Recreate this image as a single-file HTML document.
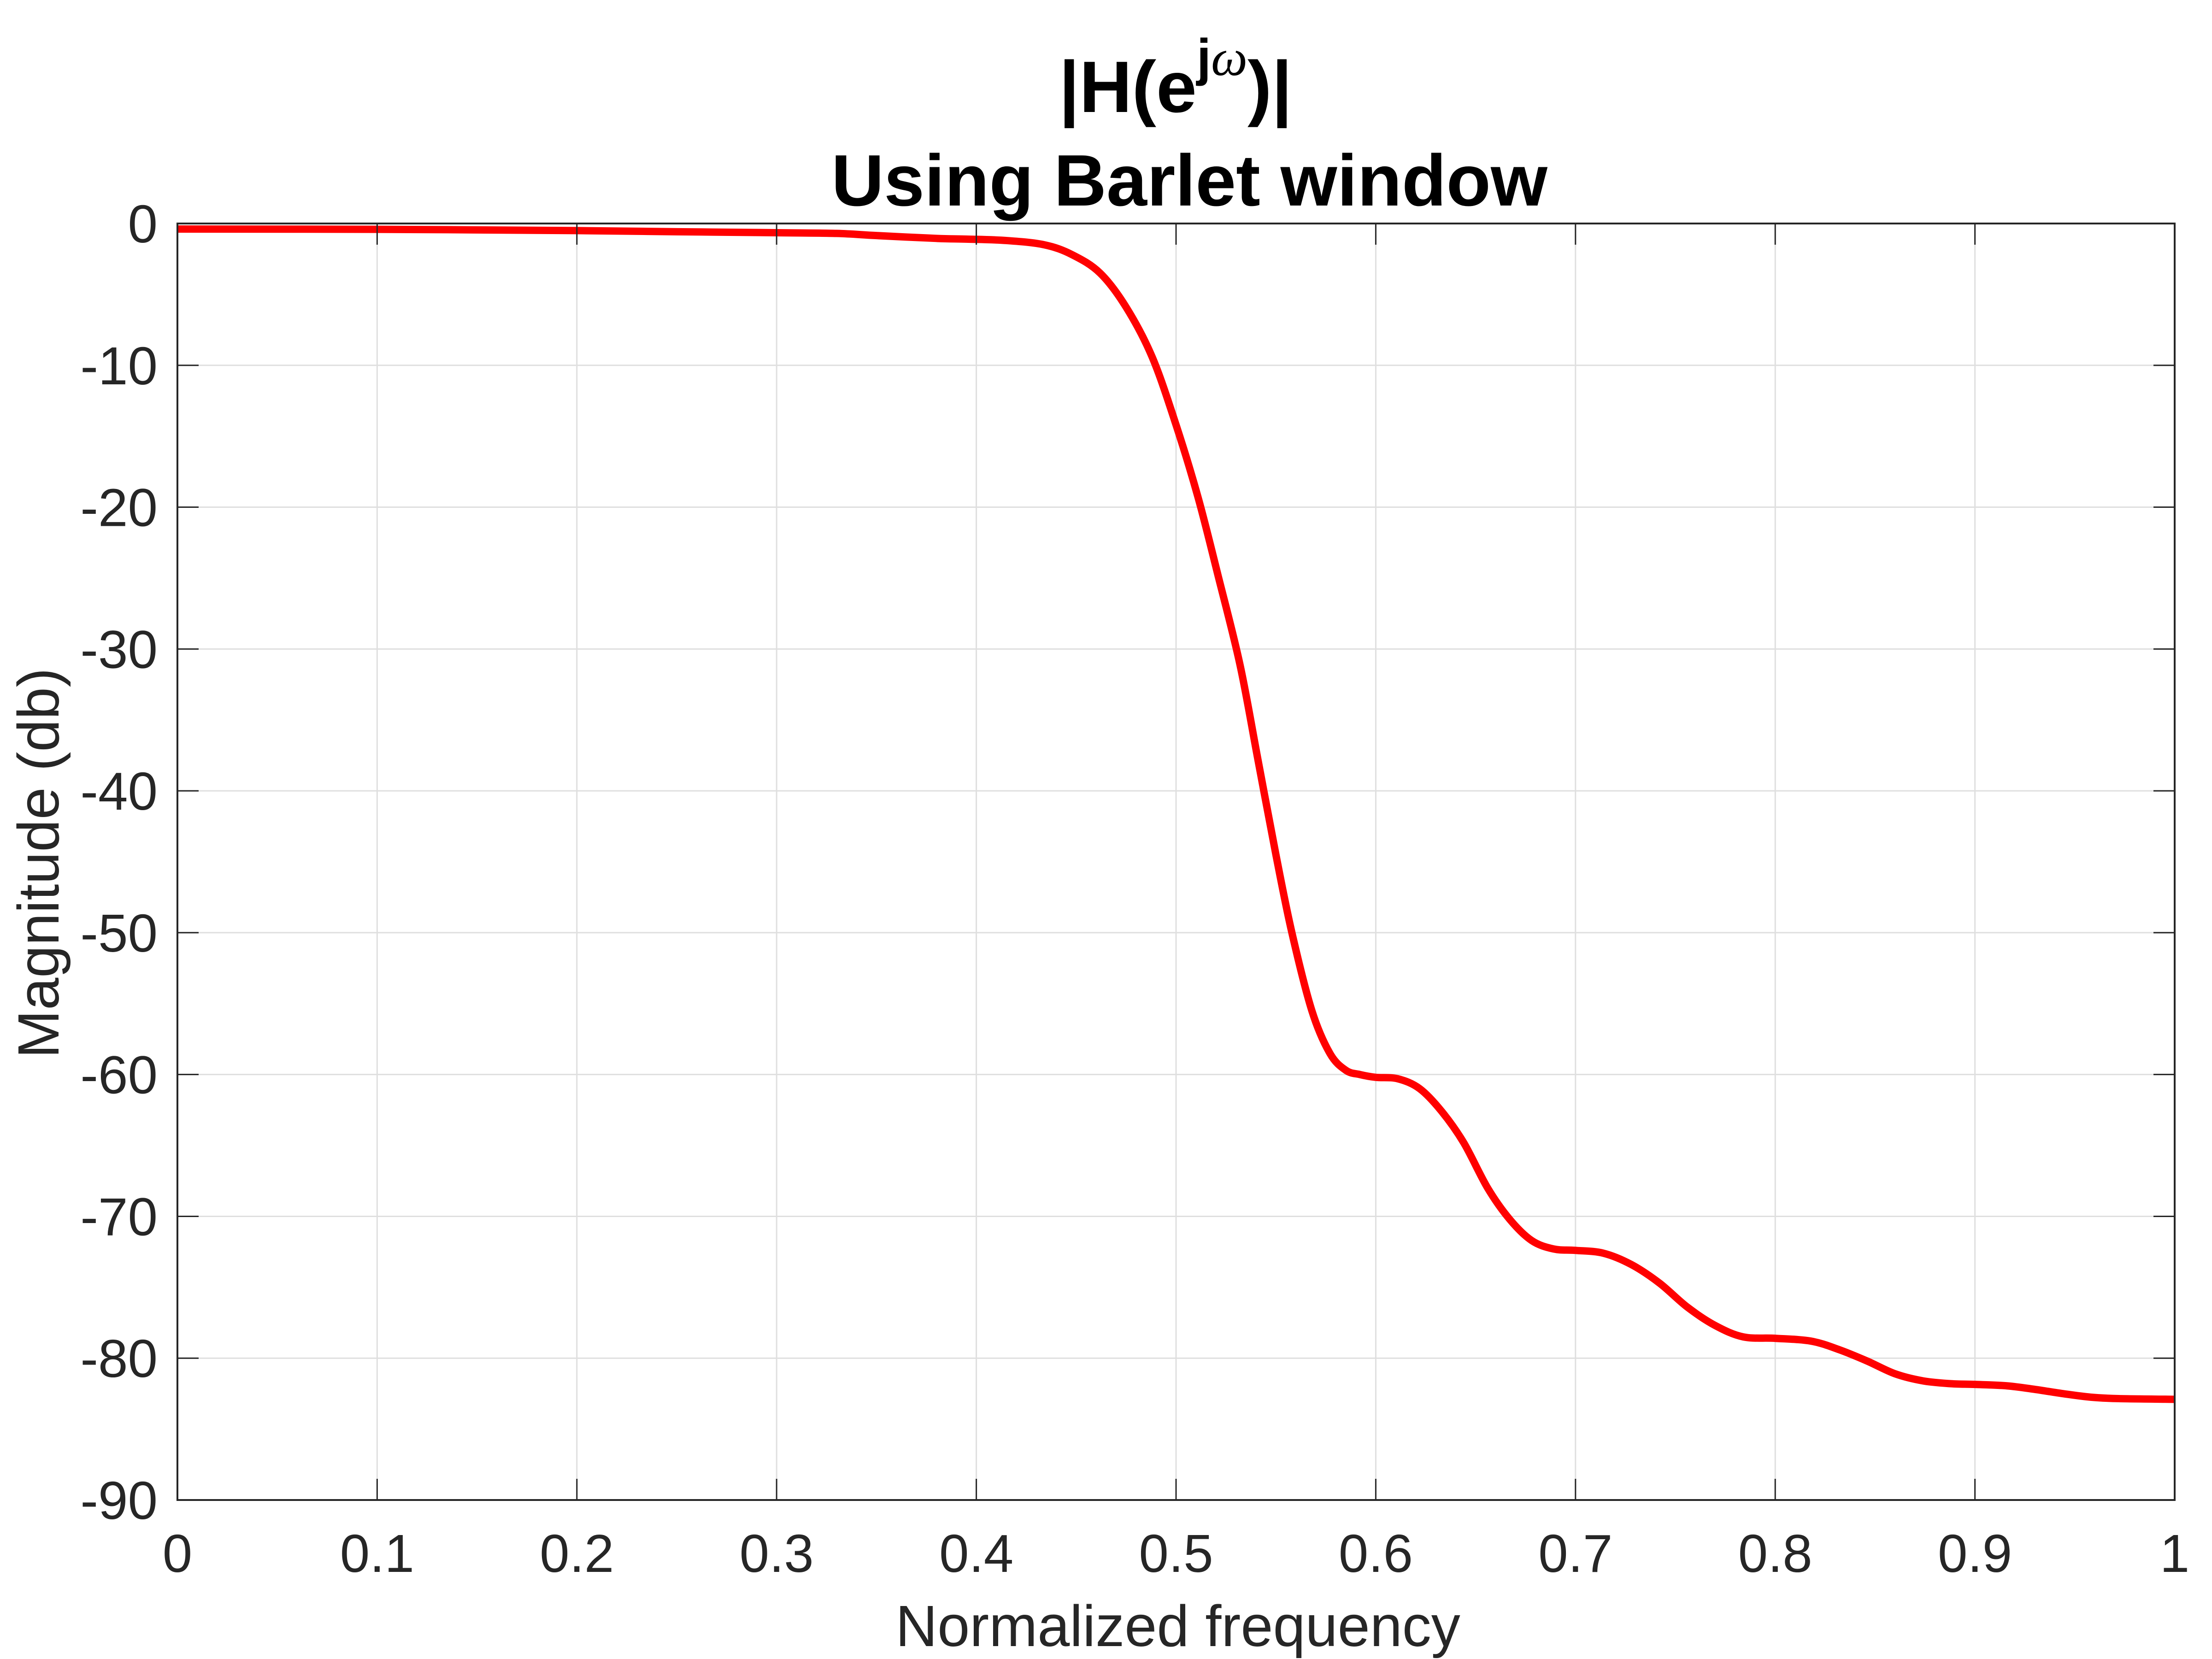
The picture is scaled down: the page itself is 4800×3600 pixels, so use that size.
<!DOCTYPE html>
<html><head><meta charset="utf-8"><style>
html,body{margin:0;padding:0;background:#fff;}
svg{display:block;}
text{font-family:"Liberation Sans",sans-serif;}
</style></head><body>
<svg id="chart" width="4800" height="3600" viewBox="0 0 4800 3600" xmlns="http://www.w3.org/2000/svg">
<rect x="0" y="0" width="4800" height="3600" fill="#fff"/>
<g id="grid"></g>
<g id="series"></g>
<g id="axes"></g>
<text x="2551" y="243" text-anchor="middle" font-size="158" font-weight="bold" fill="#000">|H(e<tspan font-size="112" dy="-80">j</tspan><tspan font-size="112" font-style="italic" font-weight="normal" font-family="Liberation Serif, serif">ω</tspan><tspan dy="80">)|</tspan></text>
<text x="2581" y="446" text-anchor="middle" font-size="158" font-weight="bold" fill="#000">Using Barlet window</text>
<text x="2556" y="3572" text-anchor="middle" font-size="126" fill="#262626">Normalized frequency</text>
<text transform="translate(127,1873) rotate(-90)" text-anchor="middle" font-size="126" fill="#262626">Magnitude (db)</text>
</svg>
<script>
const xValues = [0,0.1,0.2,0.25,0.3,0.33,0.35,0.38,0.395,0.415,0.434,0.448,0.462,0.475,0.488,0.5,0.511,0.521,0.532,0.541,0.55,0.558,0.568,0.577,0.585,0.592,0.6,0.611,0.622,0.633,0.644,0.656,0.667,0.678,0.689,0.7,0.714,0.728,0.742,0.756,0.77,0.784,0.8,0.818,0.832,0.846,0.86,0.874,0.888,0.9,0.916,0.93,0.944,0.958,0.972,1.0];
const magnitudeDb = [-0.39,-0.41,-0.5,-0.58,-0.65,-0.7,-0.85,-1.05,-1.1,-1.2,-1.5,-2.2,-3.5,-5.9,-9.4,-14.2,-19.3,-24.8,-31.1,-37.8,-44.5,-50,-55.5,-58.5,-59.7,-60,-60.2,-60.3,-61,-62.6,-64.8,-68,-70.2,-71.7,-72.3,-72.4,-72.6,-73.4,-74.7,-76.4,-77.7,-78.5,-78.6,-78.8,-79.4,-80.2,-81.1,-81.6,-81.8,-81.85,-81.95,-82.2,-82.5,-82.75,-82.85,-82.9];
const xTicks = [0,0.1,0.2,0.3,0.4,0.5,0.6,0.7,0.8,0.9,1];
const xTickLabels = ["0","0.1","0.2","0.3","0.4","0.5","0.6","0.7","0.8","0.9","1"];
const yTicks = [0,-10,-20,-30,-40,-50,-60,-70,-80,-90];
const yTickLabels = ["0","-10","-20","-30","-40","-50","-60","-70","-80","-90"];

const NS = "http://www.w3.org/2000/svg";
const L = 385, R = 4719, T = 485, B = 3255;
const xMin = 0, xMax = 1, yMin = -90, yMax = 0;
function sx(v){ return L + (v - xMin) / (xMax - xMin) * (R - L); }
function sy(v){ return T + (yMax - v) / (yMax - yMin) * (B - T); }
function mk(tag, attrs, parent){
  const e = document.createElementNS(NS, tag);
  for (const k in attrs) e.setAttribute(k, attrs[k]);
  parent.appendChild(e);
  return e;
}
const grid = document.getElementById('grid');
const axes = document.getElementById('axes');
const series = document.getElementById('series');

xTicks.forEach((v, i) => {
  const x = sx(v);
  if (i > 0 && i < xTicks.length - 1) {
    const g = mk('line', {x1:x, x2:x, y1:T, y2:B, stroke:'#dfdfdf', 'stroke-width':3}, grid);
    
    
  }
  const t1 = mk('line', {x1:x, x2:x, y1:B, y2:B-46, stroke:'#262626', 'stroke-width':3}, axes);
  
  
  const t2 = mk('line', {x1:x, x2:x, y1:T, y2:T+46, stroke:'#262626', 'stroke-width':3}, axes);
  
  
  const lbl = mk('text', {x:x, y:3411, 'text-anchor':'middle', 'font-size':116, fill:'#262626'}, axes);
  lbl.textContent = xTickLabels[i];
  
  
});
yTicks.forEach((v, i) => {
  const y = sy(v);
  if (i > 0 && i < yTicks.length - 1) {
    const g = mk('line', {x1:L, x2:R, y1:y, y2:y, stroke:'#dfdfdf', 'stroke-width':3}, grid);
    
    
  }
  const t1 = mk('line', {x1:L, x2:L+46, y1:y, y2:y, stroke:'#262626', 'stroke-width':3}, axes);
  
  
  const t2 = mk('line', {x1:R, x2:R-46, y1:y, y2:y, stroke:'#262626', 'stroke-width':3}, axes);
  
  
  const lbl = mk('text', {x:342, y:y+41, 'text-anchor':'end', 'font-size':116, fill:'#262626'}, axes);
  lbl.textContent = yTickLabels[i];
  
  
});
const box = mk('rect', {x:L, y:T, width:R-L, height:B-T, fill:'none', stroke:'#262626', 'stroke-width':4}, axes);



// smooth path through points (Catmull-Rom)
const pts = xValues.map((v, i) => [sx(v), sy(magnitudeDb[i])]);
let d = 'M' + pts[0][0] + ',' + pts[0][1];
for (let i = 0; i < pts.length - 1; i++) {
  const p0 = pts[Math.max(0, i-1)], p1 = pts[i], p2 = pts[i+1], p3 = pts[Math.min(pts.length-1, i+2)];
  const c1x = p1[0] + (p2[0]-p0[0])/6, c1y = p1[1] + (p2[1]-p0[1])/6;
  const c2x = p2[0] - (p3[0]-p1[0])/6, c2y = p2[1] - (p3[1]-p1[1])/6;
  d += ' C' + c1x + ',' + c1y + ' ' + c2x + ',' + c2y + ' ' + p2[0] + ',' + p2[1];
}
const line = mk('path', {d:d, fill:'none', stroke:'#ff0000', 'stroke-width':16, 'stroke-linejoin':'round'}, series);


</script>
</body></html>
